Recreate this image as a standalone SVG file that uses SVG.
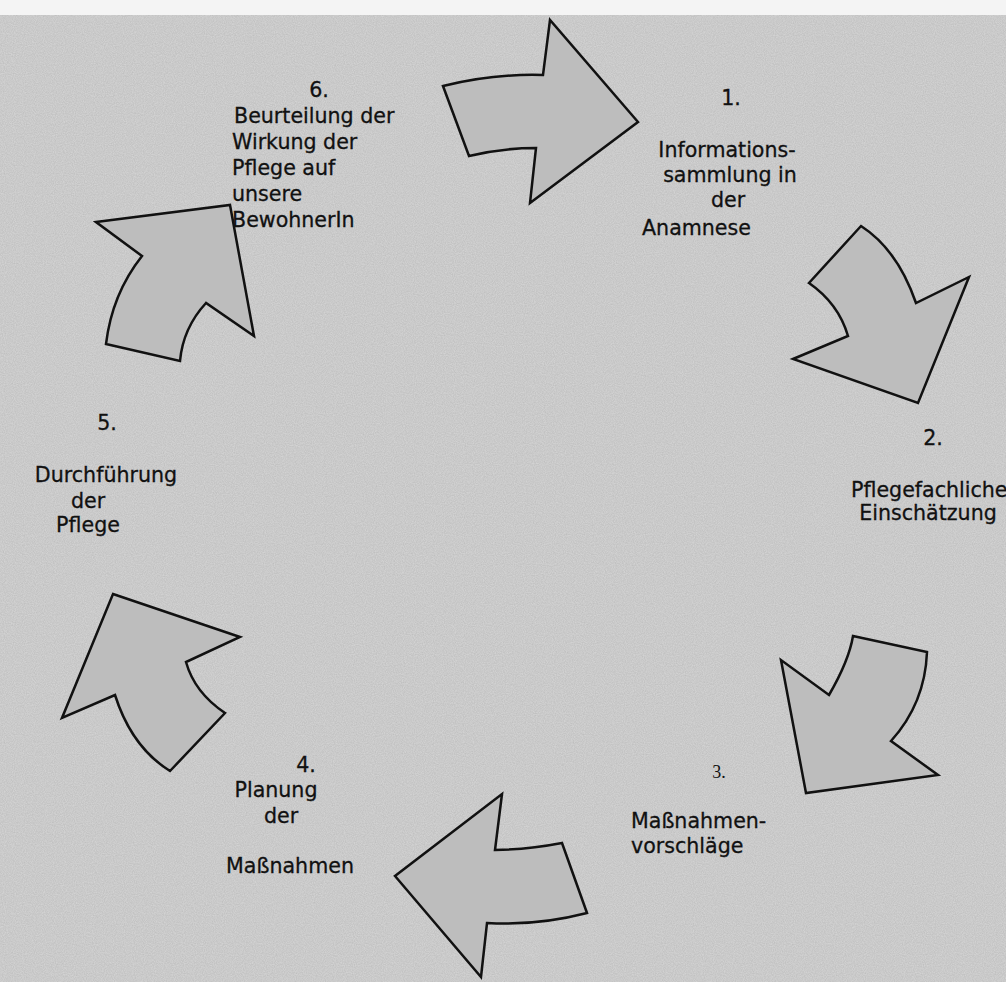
<svg xmlns="http://www.w3.org/2000/svg" width="1006" height="982" viewBox="0 0 1006 982">
<defs>
<style>
.arrow{fill:#bdbdbd;stroke:#111;stroke-width:2.5;stroke-linejoin:miter}
.t{font-family:"DejaVu Sans",Verdana,sans-serif;font-size:20.6px;fill:#111;stroke:#111;stroke-width:0.3}
.s{font-family:"Liberation Serif","Times New Roman",serif;font-size:18px;fill:#111}
.m{text-anchor:middle}
</style>
<filter id="noise" x="0" y="0" width="100%" height="100%">
<feTurbulence type="fractalNoise" baseFrequency="0.9" numOctaves="2" seed="3" result="n"/>
<feColorMatrix type="matrix" values="0 0 0 0 0  0 0 0 0 0  0 0 0 0 0  0 0 0 0.5 -0.1"/>
</filter>
</defs>
<rect x="0" y="0" width="1006" height="982" fill="#f4f4f4"/>
<rect x="0" y="15" width="1006" height="967" fill="#d2d2d2"/>
<rect x="0" y="15" width="1006" height="967" filter="url(#noise)" opacity="0.25"/>
<g id="connectors">
<path id="arrow1" class="arrow" d="M443,86 Q493,73.5 543,75 L550,20 L638,122 L530,203 L536,148 Q502,148 469,156 Z"/>
<path id="arrow2" class="arrow" d="M861,226 Q897.5,249.5 916,303 L969,277 L918,403 L793,359 L848,336 Q838.5,303.5 809,283 Z"/>
<path id="arrow3" class="arrow" d="M853,636 L927,652 Q925,703.5 891,741 L938,775 L806,793 L781,660 L829,695 Q849,660.5 853,636 Z"/>
<path id="arrow4" class="arrow" d="M502,794 L495,850 Q528,849.5 562,843 L587,913 Q537,926 487,923 L481,977 L395,876 Z"/>
<path id="arrow5" class="arrow" d="M113,594 L240,637 L186,662 Q194.5,692.5 225,713 L170,771 Q131.5,747 115,695 L62,718 Z"/>
<path id="arrow6" class="arrow" d="M96,222 L230,205 L254,336 L206,303 Q183,328 180,361 L106,344 Q112,294 142,256 Z"/>
</g>
<g id="node1">
<text class="t m" x="731" y="105">1.</text>
<text class="t m" x="727" y="157">Informations-</text>
<text class="t m" x="730" y="182">sammlung in</text>
<text class="t m" x="728" y="207">der</text>
<text class="t" x="642" y="235">Anamnese</text>
</g>
<g id="node2">
<text class="t m" x="933" y="445">2.</text>
<text class="t" x="851" y="497">Pflegefachliche</text>
<text class="t m" x="928" y="520">Einschätzung</text>
</g>
<g id="node3">
<text class="s m" x="719" y="778">3.</text>
<text class="t" x="631" y="828">Maßnahmen-</text>
<text class="t" x="631" y="853">vorschläge</text>
</g>
<g id="node4">
<text class="t m" x="306" y="772">4.</text>
<text class="t m" x="276" y="797">Planung</text>
<text class="t m" x="281" y="823">der</text>
<text class="t m" x="290" y="873">Maßnahmen</text>
</g>
<g id="node5">
<text class="t m" x="107" y="430">5.</text>
<text class="t m" x="106" y="482">Durchführung</text>
<text class="t m" x="88" y="508">der</text>
<text class="t m" x="88" y="532">Pflege</text>
</g>
<g id="node6">
<text class="t m" x="319" y="97">6.</text>
<text class="t" x="234" y="123">Beurteilung der</text>
<text class="t" x="232" y="149">Wirkung der</text>
<text class="t" x="232" y="175">Pflege auf</text>
<text class="t" x="232" y="201">unsere</text>
<text class="t" x="232" y="227">BewohnerIn</text>
</g>
</svg>
